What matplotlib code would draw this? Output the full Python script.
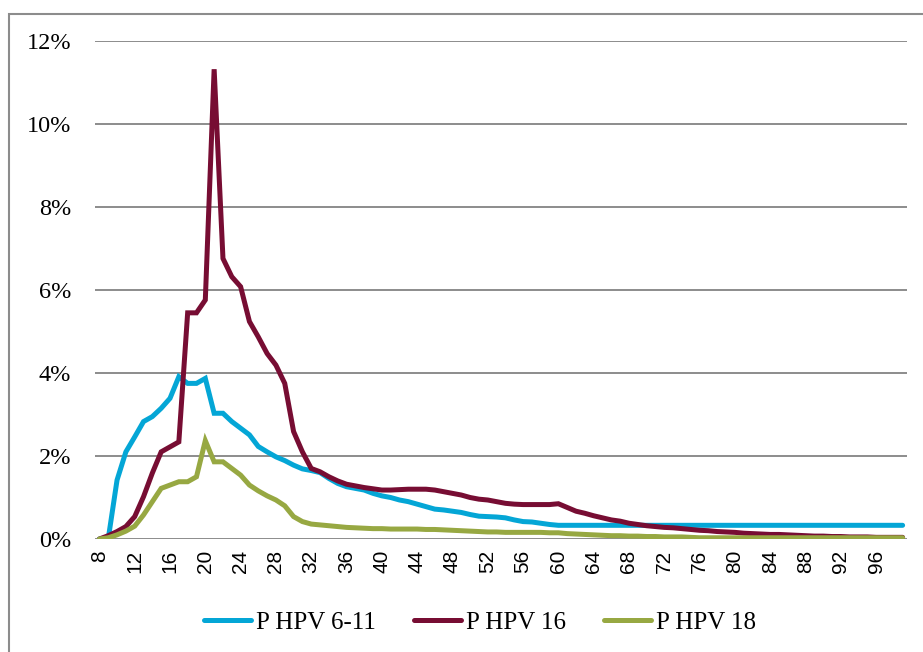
import matplotlib
matplotlib.use("Agg")
import matplotlib.pyplot as plt
from matplotlib.patches import Rectangle
from matplotlib.ticker import FuncFormatter

# ages 8..99 (one value per age, in %)
ages = list(range(8, 100))

hpv_6_11 = [
    0.00, 0.00, 1.42, 2.10, 2.46, 2.83, 2.95, 3.15, 3.39, 3.91,
    3.75, 3.75, 3.87, 3.03, 3.03, 2.83, 2.67, 2.51, 2.23, 2.10,
    1.98, 1.89, 1.78, 1.69, 1.65, 1.60, 1.46, 1.34, 1.26, 1.22,
    1.18, 1.10, 1.04, 1.00, 0.94, 0.90, 0.84, 0.78, 0.72, 0.70,
    0.67, 0.64, 0.59, 0.55, 0.54, 0.53, 0.51, 0.46, 0.42, 0.41,
    0.38, 0.35, 0.33, 0.33, 0.33, 0.33, 0.33, 0.33, 0.33, 0.33,
    0.33, 0.33, 0.33, 0.33, 0.33, 0.33, 0.33, 0.33, 0.33, 0.33,
    0.33, 0.33, 0.33, 0.33, 0.33, 0.33, 0.33, 0.33, 0.33, 0.33,
    0.33, 0.33, 0.33, 0.33, 0.33, 0.33, 0.33, 0.33, 0.33, 0.33,
    0.33, 0.33,
]

hpv_16 = [
    0.00, 0.08, 0.18, 0.30, 0.54, 1.02, 1.59, 2.10, 2.22, 2.34,
    5.45, 5.45, 5.76, 11.32, 6.76, 6.32, 6.08, 5.24, 4.87, 4.47,
    4.19, 3.75, 2.59, 2.10, 1.70, 1.62, 1.50, 1.40, 1.32, 1.28,
    1.24, 1.21, 1.18, 1.18, 1.19, 1.20, 1.20, 1.20, 1.18, 1.14,
    1.10, 1.06, 1.00, 0.96, 0.94, 0.90, 0.86, 0.84, 0.83, 0.83,
    0.83, 0.83, 0.85, 0.76, 0.67, 0.62, 0.56, 0.51, 0.46, 0.43,
    0.38, 0.35, 0.32, 0.30, 0.28, 0.27, 0.25, 0.23, 0.21, 0.20,
    0.18, 0.17, 0.16, 0.14, 0.13, 0.12, 0.11, 0.11, 0.10, 0.09,
    0.08, 0.07, 0.07, 0.06, 0.06, 0.05, 0.05, 0.05, 0.04, 0.04,
    0.04, 0.04,
]

hpv_18 = [
    0.00, 0.03, 0.10, 0.19, 0.31, 0.58, 0.90, 1.22, 1.30, 1.38,
    1.38, 1.50, 2.37, 1.86, 1.86, 1.70, 1.54, 1.30, 1.16, 1.04,
    0.94, 0.80, 0.54, 0.42, 0.36, 0.34, 0.32, 0.30, 0.28, 0.27,
    0.26, 0.25, 0.25, 0.24, 0.24, 0.24, 0.24, 0.23, 0.23, 0.22,
    0.21, 0.20, 0.19, 0.18, 0.17, 0.17, 0.16, 0.16, 0.16, 0.16,
    0.16, 0.15, 0.15, 0.13, 0.12, 0.11, 0.10, 0.09, 0.08, 0.08,
    0.07, 0.07, 0.06, 0.06, 0.05, 0.05, 0.05, 0.04, 0.03, 0.03,
    0.03, 0.03, 0.03, 0.03, 0.03, 0.03, 0.03, 0.03, 0.03, 0.03,
    0.03, 0.03, 0.03, 0.03, 0.03, 0.03, 0.03, 0.03, 0.03, 0.03,
    0.03, 0.03,
]

series_names = ["P HPV 6-11", "P HPV 16", "P HPV 18"]
colors = ["#04A6D6", "#770D33", "#97A842"]
y_ticks = [0, 2, 4, 6, 8, 10, 12]
x_ticks = list(range(8, 97, 4))

fig = plt.figure(figsize=(9.23, 6.52), dpi=100)
ax = fig.add_axes([0.1029, 0.1733, 0.8798, 0.7638])

for vals, name, c in zip([hpv_6_11, hpv_16, hpv_18], series_names, colors):
    ax.plot(ages, vals, color=c, lw=3.6, label=name,
            solid_capstyle="round", solid_joinstyle="miter")

ax.set_xlim(7.5, 99.5)
ax.set_ylim(0, 12)
ax.set_yticks(y_ticks)
ax.yaxis.set_major_formatter(FuncFormatter(lambda v, p: "%d%%" % v))
ax.set_xticks(x_ticks)
ax.set_xticklabels([str(a) for a in x_ticks], rotation=90,
                   fontfamily="Liberation Sans", fontsize=15)
for lab in ax.get_yticklabels():
    lab.set_fontfamily("Liberation Serif")
    lab.set_fontsize(17.5)
ax.tick_params(axis="y", length=0, pad=17)
ax.tick_params(axis="x", length=0, pad=8)

ax.grid(axis="y", color="#8C8C8C", lw=1.4)
ax.set_axisbelow(True)
for s in ax.spines.values():
    s.set_visible(False)

# outer chart frame (only left and top edges fall inside the picture)
fig.patches.append(Rectangle((9 / 923, -0.2), 1.2, 1.2 - 14 / 652,
                             transform=fig.transFigure, fill=False,
                             edgecolor="#8C8C8C", lw=1.5))

fig.legend(loc="center", bbox_to_anchor=(0.52, 0.045), ncol=3, frameon=False,
           prop={"family": "Liberation Serif", "size": 18},
           handlelength=1.9, handletextpad=0.2, columnspacing=1.5)

fig.savefig("out.png", dpi=100)
